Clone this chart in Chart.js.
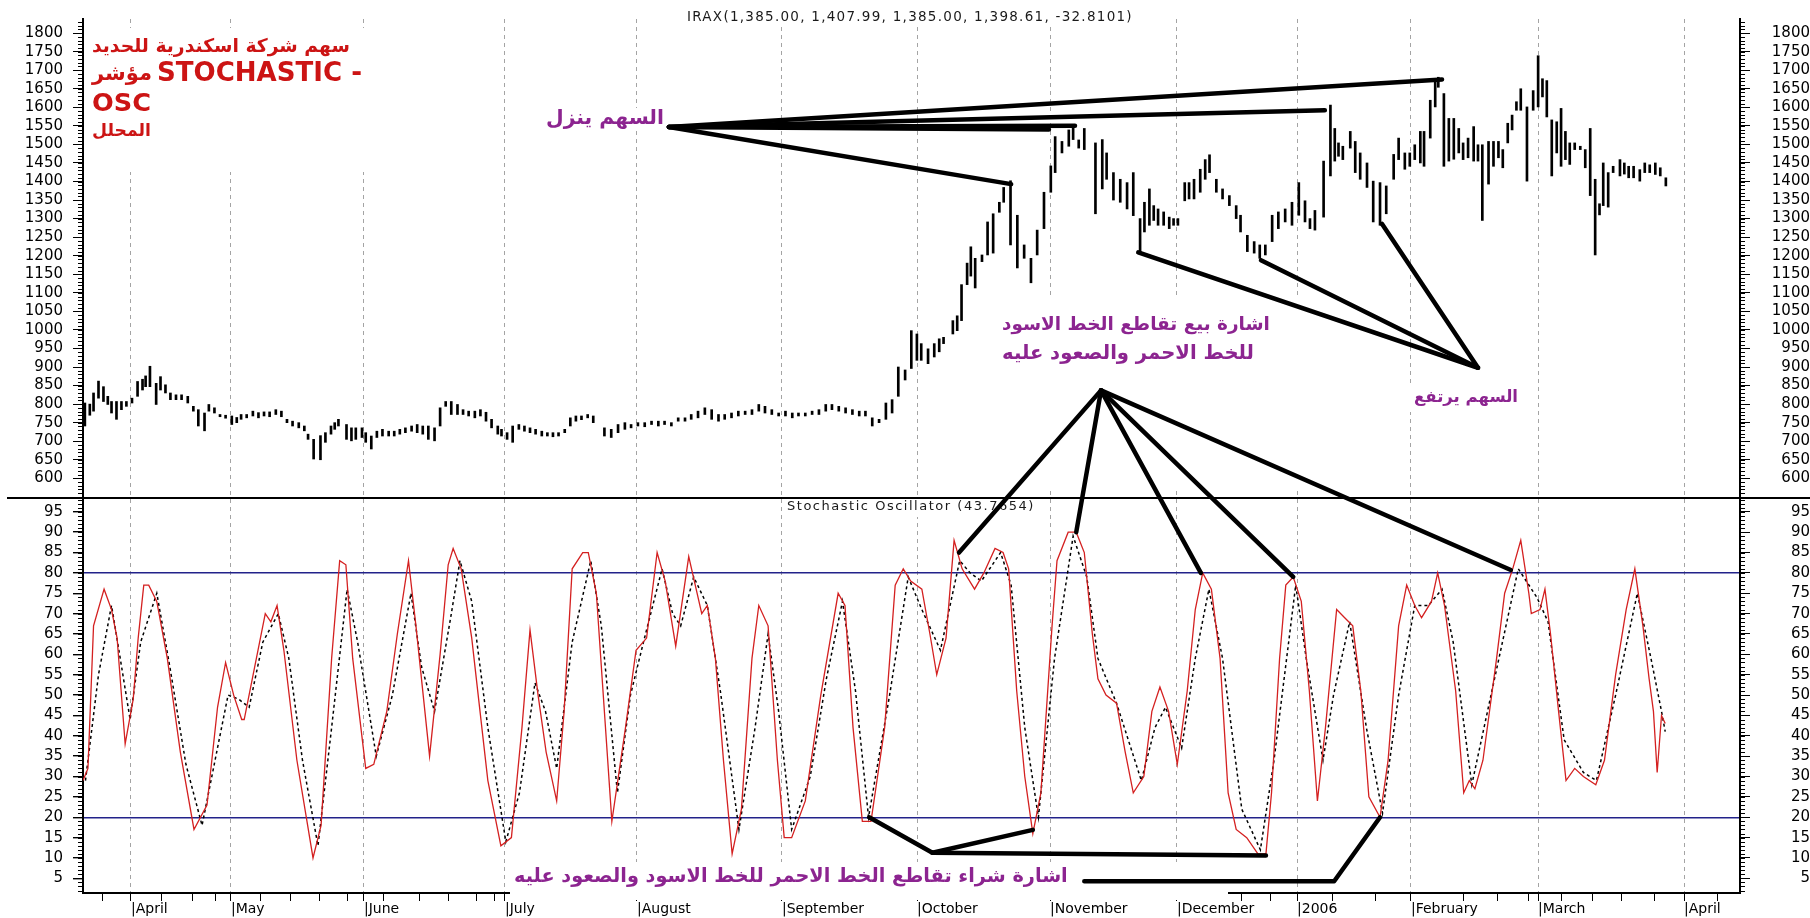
<!DOCTYPE html>
<html><head><meta charset="utf-8">
<script src="https://cdn.jsdelivr.net/npm/chart.js@4.4.1/dist/chart.umd.min.js"></script>
<style>html,body{margin:0;padding:0;background:#fff;}canvas{display:block;}</style>
</head><body>
<canvas id="c" width="1810" height="918"></canvas>
<script>
// ---------- axis ticks / labels ----------
const monthPos = [7.74, 23.87, 45.32, 68.06, 89.35, 112.74, 134.52, 155.97, 176.45, 195.81, 214.19, 234.68, 258.23];
const monthLabels = ['|April','|May','|June','|July','|August','|September','|October','|November','|December','|2006','|February','|March','|April'];
const weekPos = [3.2, 12.7, 17.6, 21.3, 28.7, 33.4, 38.1, 42.6, 48.4, 54.2, 58.9, 63.4, 66.3, 186.9, 191.6, 201.5, 208.5, 222.6, 228.1, 233.2, 238.4, 243.5, 248.2, 253.4, 263.7];
const priceTicks = [600,650,700,750,800,850,900,950,1000,1050,1100,1150,1200,1250,1300,1350,1400,1450,1500,1550,1600,1650,1700,1750,1800];
const stochTicks = [5,10,15,20,25,30,35,40,45,50,55,60,65,70,75,80,85,90,95];

// ---------- price bars (trading-day position, high, low) ----------
const barX = [0.3,1.1,1.7,2.5,3.3,4.0,4.6,5.4,6.2,7.0,7.9,8.8,9.6,10.1,10.8,11.8,12.5,13.3,14.1,15.0,15.9,16.9,17.8,18.6,19.6,20.3,21.2,22.1,23.0,24.0,24.8,25.5,26.4,27.4,28.3,29.2,30.1,31.1,32.0,32.9,33.8,34.8,35.7,36.3,37.2,38.3,39.1,40.0,40.6,41.2,42.5,43.3,44.0,45.0,45.6,46.5,47.4,48.3,49.3,50.2,51.1,52.0,53.0,53.9,54.8,55.7,56.7,57.6,58.5,59.4,60.4,61.3,62.2,63.2,64.1,65.0,65.9,66.9,67.5,68.4,69.3,70.3,71.2,72.1,73.0,74.0,74.9,75.8,76.7,77.7,78.6,79.5,80.4,81.4,82.3,
84.1,85.2,86.3,87.4,88.4,89.5,90.6,91.7,92.8,93.8,94.9,96.0,97.1,98.1,99.2,100.3,101.4,102.5,103.5,104.6,105.7,106.8,107.9,109.0,110.0,111.1,112.2,113.3,114.4,115.4,116.5,117.6,118.7,119.8,120.8,121.9,123.0,124.1,125.2,126.2,127.3,128.4,129.5,130.5,131.5,132.6,133.6,134.5,135.2,136.3,137.3,138.1,138.8,140.3,141.0,141.7,142.6,143.2,143.9,145.0,145.9,146.8,147.8,148.5,149.6,150.7,151.8,152.9,153.9,155.0,156.1,156.8,157.9,159.0,159.7,160.6,161.5,163.3,164.4,165.1,166.2,167.3,168.4,169.4,170.5,171.2,172.0,172.7,173.4,174.3,175.2,175.9,176.6,177.7,178.4,179.2,180.2,181.0,181.7,182.8,183.8,184.9,186.0,186.7,187.8,188.9,189.8,190.7,191.8,192.8,193.9,195.0,196.1,
197.1,197.9,198.7,200.1,201.2,201.9,202.5,203.2,204.4,205.2,206.0,207.1,208.1,209.2,210.2,211.4,212.2,213.2,214.0,214.8,215.7,216.3,217.3,218.1,218.6,219.5,220.3,221.1,221.9,222.6,223.4,224.3,225.0,225.7,226.7,227.5,228.3,229.0,229.8,230.5,231.2,231.9,232.9,233.9,234.7,235.4,236.1,236.9,237.7,238.4,239.1,239.8,240.6,241.5,242.3,243.1,243.9,244.6,245.2,246.0,246.8,247.9,248.6,249.3,250.1,251.1,251.9,252.7,253.6,254.4,255.3];
const barHigh = [803,800,830,862,847,821,807,807,807,807,816,861,867,876,902,856,874,852,830,825,825,821,794,785,776,799,790,772,770,768,764,772,772,781,777,779,779,785,781,759,754,750,741,719,705,715,723,741,750,759,745,736,736,736,723,714,727,732,727,727,732,736,741,745,741,741,736,790,807,807,799,785,781,781,785,778,759,741,732,723,741,745,741,736,732,727,723,723,723,732,763,768,768,772,768,
736,732,745,750,745,750,750,754,754,754,750,763,763,772,781,790,785,772,772,776,781,781,785,799,794,785,776,781,776,776,776,781,785,799,799,794,790,785,781,781,763,759,803,812,900,892,998,989,963,949,963,976,980,1025,1038,1122,1180,1224,1193,1202,1291,1313,1344,1384,1402,1309,1229,1193,1269,1371,1442,1521,1508,1539,1552,1512,1543,1504,1513,1477,1424,1406,1397,1424,1300,1344,1380,1335,1326,1318,1304,1300,1300,1397,1397,1406,1433,1459,1472,1406,1380,1362,1335,1309,1255,1238,1229,1229,1309,1318,1326,1344,1397,
1348,1300,1322,1455,1606,1543,1504,1495,1535,1508,1477,1450,1401,1397,1388,1473,1517,1477,1477,1499,1535,1535,1619,1668,1681,1637,1570,1570,1543,1504,1517,1548,1499,1499,1508,1508,1508,1486,1557,1579,1615,1650,1601,1645,1739,1677,1672,1566,1561,1597,1535,1504,1504,1495,1486,1543,1406,1340,1450,1424,1441,1459,1450,1441,1441,1432,1450,1445,1450,1437,1410];
const barLow = [741,770,781,816,807,799,776,759,785,794,803,821,838,847,847,799,838,830,812,812,812,803,781,741,728,781,776,766,762,745,750,759,763,768,763,768,766,772,766,750,741,736,728,705,652,650,697,719,732,741,705,701,705,710,697,679,710,714,714,714,719,723,727,723,719,705,701,741,794,772,772,772,768,763,768,754,736,719,714,705,697,732,727,723,719,714,714,712,714,723,741,754,758,763,750,
714,710,723,732,736,741,739,745,741,745,741,754,754,759,763,772,759,754,759,763,768,772,772,781,776,772,768,768,763,768,768,772,772,781,785,781,776,772,768,768,741,750,759,776,821,865,896,918,918,909,927,941,963,989,998,1025,1122,1145,1113,1184,1202,1207,1317,1344,1229,1167,1193,1127,1202,1273,1371,1424,1477,1495,1513,1490,1486,1313,1380,1406,1350,1344,1326,1308,1211,1264,1282,1295,1282,1282,1273,1282,1282,1348,1353,1353,1371,1406,1424,1371,1353,1335,1300,1264,1211,1207,1193,1202,1238,1273,1291,1282,1309,
1291,1273,1269,1304,1415,1455,1468,1459,1490,1424,1406,1384,1291,1282,1313,1406,1459,1433,1441,1459,1450,1441,1517,1601,1654,1441,1455,1460,1477,1459,1464,1455,1455,1295,1393,1441,1464,1437,1504,1539,1592,1592,1401,1592,1601,1628,1574,1415,1477,1441,1459,1446,1486,1486,1437,1362,1202,1310,1335,1331,1424,1415,1420,1410,1410,1401,1424,1424,1419,1415,1388];

// ---------- stochastic %K (red) ----------
const kX = [0.0,0.8,1.7,3.4,4.6,5.5,6.8,8.1,8.9,9.8,10.6,11.9,13.6,15.7,17.9,20.0,21.7,23.0,24.3,25.6,26.0,27.7,29.4,30.3,31.3,32.4,34.5,37.1,38.4,40.1,41.4,42.4,43.5,45.6,46.9,49.0,50.7,52.5,53.7,55.9,57.6,58.9,59.7,61.0,62.7,65.3,67.4,69.1,70.8,72.1,73.4,74.7,76.4,77.6,78.9,80.6,81.5,82.8,85.3,87.5,89.2,90.9,92.6,93.9,95.6,97.7,99.8,100.7,102.0,103.3,104.7,106.2,107.9,109.0,110.5,112.0,113.1,114.3,116.5,119.0,121.8,122.9,124.2,125.7,127.1,129.3,131.0,132.3,133.5,135.3,136.6,137.7,139.2,140.5,141.8,143.8,145.3,147.1,148.4,149.3,150.6,151.9,153.2,154.5,156.3,157.1,158.9,160.2,161.5,162.8,163.7,165.0,166.7,168.1,169.4,171.1,172.4,173.7,175.1,176.5,178.1,179.4,180.6,182.0,183.4,184.7,186.0,187.7,189.5,190.8,191.7,193.0,194.0,195.2,196.5,197.8,199.1,200.4,202.2,203.5,204.8,206.1,207.4,209.2,210.5,212.2,213.5,214.8,215.9,217.5,218.5,219.6,221.4,222.7,223.6,224.5,225.8,228.0,229.3,230.6,231.9,233.2,233.6,235.0,235.8,236.7,238.0,239.2,240.6,242.0,244.0,245.4,247.2,248.9,250.3,251.6,252.6,253.3,253.9,254.6,255.2];
const kVal = [29,32,67,76,71,64,38,49,64,77,77,73,59,36,17,23,47,58,50,44,44,57,70,68,72,61,34,10,18,59,83,82,59,32,33,46,65,83,67,35,60,82,86,81,64,29,13,15,42,66,50,36,24,46,81,85,85,75,19,42,61,64,85,78,62,84,70,72,59,34,11,22,59,72,67,34,15,15,24,50,75,72,42,19,19,42,77,81,78,76,65,55,64,88,81,76,80,86,85,81,51,30,16,26,67,83,90,90,85,65,54,50,48,36,26,30,46,52,46,33,51,71,80,76,59,26,17,15,11,11,26,59,77,79,73,51,24,42,71,69,67,51,25,20,34,67,77,72,69,73,80,72,51,26,29,27,34,59,75,81,88,75,70,71,76,65,46,29,32,30,28,34,55,71,81,67,54,46,31,45,43];

// ---------- stochastic %D (black dotted) ----------
const dX = [0.4,2.5,4.6,5.9,7.6,9.3,11.9,14.0,16.6,19.2,21.3,23.4,25.1,26.8,29.0,31.5,33.2,35.4,37.9,40.1,42.6,44.3,47.3,49.9,52.9,54.6,56.7,59.3,60.8,62.7,65.3,68.2,70.4,72.9,74.6,76.4,78.9,81.9,83.6,86.2,88.3,90.4,93.4,95.1,96.4,98.5,100.7,102.8,105.8,108.4,110.5,112.2,114.3,117.3,119.9,122.5,124.6,126.7,130.1,133.1,135.3,138.3,141.4,143.1,144.9,148.0,149.7,151.9,154.1,156.7,159.7,161.9,163.7,166.7,170.7,172.9,174.6,177.2,179.4,181.6,183.8,186.9,189.9,192.1,195.6,197.3,200.0,201.7,204.3,207.0,209.6,212.2,214.8,217.0,219.2,221.0,224.0,227.1,231.5,234.5,236.3,238.9,242.0,244.1,247.2,250.7,252.9,254.6,255.2];
const dVal = [29,55,72,60,44,63,75,57,33,18,34,50,49,47,63,70,59,34,13,42,76,63,35,50,75,57,46,69,83,73,42,14,26,53,46,32,63,83,67,26,50,63,81,70,67,79,72,51,17,42,65,46,17,30,54,73,51,20,50,79,71,61,83,80,78,85,77,42,20,59,89,79,59,48,29,42,47,37,59,76,59,22,12,34,77,59,34,50,68,42,21,50,72,72,76,63,28,50,81,74,68,39,31,29,50,75,59,46,41];

// ---------- annotation anchor points (trading day, value) ----------
const fallFrom = [94.5, 1547];
const fallTo = [[149.7,1393],[155.8,1540],[160.0,1550],[200.3,1592],[219.2,1675]];
const riseFrom = [225.0, 898];
const riseTo = [[170.2,1209],[190.0,1188],[209.5,1286]];
const sellFrom = [164.2, 837];
const sellTo = [[141.3,85],[160.2,90],[180.3,80],[195.2,79],[230.3,80.7]];
const buyPaths = [[[126.8,20],[137.0,11.3],[153.2,16.9]], [[137.0,11.3],[190.8,10.6]], [[161.5,4.3],[201.8,4.3],[209.2,20]]];

const FONT = '"DejaVu Sans"';
const PURPLE = '#8c2490';
const RED = '#cc1414';

function fitText(c, txt, x, y, w, weight, family, color) {
  c.save();
  c.font = weight + ' 100px ' + family;
  const m = c.measureText(txt).width;
  const size = 100 * w / m;
  c.font = weight + ' ' + size.toFixed(2) + 'px ' + family;
  c.fillStyle = color; c.textAlign = 'left'; c.textBaseline = 'middle';
  c.fillText(txt, x, y);
  c.restore();
  return size;
}
function spacedText(c, txt, x, y, w, size, color) {
  c.save();
  c.font = size + 'px ' + FONT;
  const m = c.measureText(txt).width;
  if ('letterSpacing' in c) c.letterSpacing = ((w - m) / txt.length).toFixed(2) + 'px';
  c.fillStyle = color; c.textAlign = 'left'; c.textBaseline = 'middle';
  c.fillText(txt, x, y);
  c.restore();
}

const decor = {
  id: 'decor',
  beforeDraw(chart) {
    const c = chart.ctx; c.save(); c.fillStyle = '#fff'; c.fillRect(0, 0, chart.width, chart.height); c.restore();
  },
  beforeDatasetsDraw(chart) {
    // white backgrounds of the text labels (they hide grid lines)
    const c = chart.ctx; c.save(); c.fillStyle = '#fff';
    const boxes = [[84,28,400,172],[683,8,1137,27],[543,108,668,130],[995,295,1305,490],[1405,384,1525,412],[783,497,1040,517],[510,862,1228,900]];
    for (const b of boxes) c.fillRect(b[0], b[1], b[2]-b[0], b[3]-b[1]);
    c.restore();
  },
  afterDraw(chart) {
    const c = chart.ctx, s = chart.scales;
    const xs = s.x, yP = s.yP, yS = s.yS;
    const L = chart.chartArea.left, R = chart.chartArea.right;
    c.save();
    // minor ticks
    c.strokeStyle = '#000'; c.lineWidth = 1;
    c.beginPath();
    for (let v = 550; v <= 1830; v += 10) {
      const y = Math.round(yP.getPixelForValue(v)) + 0.5;
      c.moveTo(L - 5, y); c.lineTo(L, y); c.moveTo(R, y); c.lineTo(R + 5, y);
    }
    for (let v = 2; v <= 98; v += 1) {
      const y = Math.round(yS.getPixelForValue(v)) + 0.5;
      c.moveTo(L - 5, y); c.lineTo(L, y); c.moveTo(R, y); c.lineTo(R + 5, y);
    }
    c.stroke();
    // panel divider
    c.lineWidth = 2; c.beginPath();
    c.moveTo(7, yP.bottom); c.lineTo(chart.width, yP.bottom); c.stroke();
    c.restore();

    // texts
    spacedText(c, 'IRAX(1,385.00, 1,407.99, 1,385.00, 1,398.61, -32.8101)', 687, 17, 446, 13.5, '#1a1a1a');
    spacedText(c, 'Stochastic Oscillator (43.7654)', 787, 507, 248, 13, '#1a1a1a');
    fitText(c, 'سهم شركة اسكندرية للحديد', 92, 47, 258, 'bold', FONT, RED);
    fitText(c, 'مؤشر', 92, 75, 60, 'bold', FONT, RED);
    fitText(c, 'STOCHASTIC -', 157, 74, 205, 'bold', FONT, RED);
    fitText(c, 'OSC', 92, 104, 59, 'bold', FONT, RED);
    fitText(c, 'المحلل', 92, 132, 59, 'bold', FONT, RED);
    fitText(c, 'السهم ينزل', 546, 119, 118, 'bold', FONT, PURPLE);
    fitText(c, 'اشارة بيع تقاطع الخط الاسود', 1002, 325, 268, 'bold', FONT, PURPLE);
    fitText(c, 'للخط الاحمر والصعود عليه', 1002, 354, 252, 'bold', FONT, PURPLE);
    fitText(c, 'السهم يرتفع', 1414, 398, 104, 'bold', FONT, PURPLE);
    fitText(c, 'اشارة شراء تقاطع الخط الاحمر للخط الاسود والصعود عليه', 514, 877, 554, 'bold', FONT, PURPLE);

    // annotation lines
    c.save();
    c.strokeStyle = '#000'; c.lineWidth = 4.5; c.lineCap = 'round'; c.lineJoin = 'round';
    const P = (pt, sc) => [xs.getPixelForValue(pt[0]), sc.getPixelForValue(pt[1])];
    const seg = (a, sa, b, sb) => { const p = P(a, sa), q = P(b, sb); c.beginPath(); c.moveTo(p[0], p[1]); c.lineTo(q[0], q[1]); c.stroke(); };
    fallTo.forEach(t => seg(fallFrom, yP, t, yP));
    riseTo.forEach(t => seg(riseFrom, yP, t, yP));
    sellTo.forEach(t => seg(sellFrom, yP, t, yS));
    buyPaths.forEach(path => {
      c.beginPath();
      path.forEach((pt, i) => { const p = P(pt, yS); if (i) c.lineTo(p[0], p[1]); else c.moveTo(p[0], p[1]); });
      c.stroke();
    });
    c.restore();
  }
};

const tickFont = {family: 'DejaVu Sans', size: 15};
const leftFit = s => { s.width = 83; };
const rightFit = s => { s.width = 70; };

new Chart(document.getElementById('c'), {
  type: 'line',
  data: {
    datasets: [
      { type: 'line', label: '%K', data: kX.map((x, i) => ({x, y: kVal[i]})), yAxisID: 'yS', xAxisID: 'x',
        borderColor: '#d42020', borderWidth: 1.3, pointRadius: 0, tension: 0, fill: false },
      { type: 'line', label: '%D', data: dX.map((x, i) => ({x, y: dVal[i]})), yAxisID: 'yS', xAxisID: 'x',
        borderColor: '#000', borderWidth: 1.5, borderDash: [3, 3], pointRadius: 0, tension: 0, fill: false },
      { type: 'bar', label: 'IRAX', data: barX.map((x, i) => ({x, y: [barLow[i], barHigh[i]]})), yAxisID: 'yP', xAxisID: 'x',
        backgroundColor: '#000', borderWidth: 0, barThickness: 2, grouped: false }
    ]
  },
  options: {
    responsive: false, animation: false, devicePixelRatio: 1,
    layout: {padding: {top: 8, left: 0, right: 0, bottom: 0}},
    plugins: {legend: {display: false}, tooltip: {enabled: false}, title: {display: false}},
    scales: {
      x: {
        type: 'linear', position: 'bottom', min: 0, max: 267.26, offset: false,
        afterBuildTicks: sc => { sc.ticks = [...monthPos, ...weekPos].sort((a, b) => a - b).map(v => ({value: v})); },
        afterFit: sc => { sc.height = 25; },
        grid: {offset: false, drawTicks: true, tickLength: 8, tickColor: '#000', lineWidth: 1,
               color: ctx => (ctx.tick && monthPos.includes(ctx.tick.value)) ? '#a4a4a4' : 'rgba(0,0,0,0)'},
        border: {display: true, color: '#000', width: 2, dash: [4, 4]},
        ticks: {autoSkip: false, maxRotation: 0, minRotation: 0, align: 'start', padding: 0, color: '#000',
                font: {family: 'DejaVu Sans', size: 14},
                callback: v => { const k = monthPos.indexOf(v); return k >= 0 ? monthLabels[k] : ''; }}
      },
      yS: {
        type: 'linear', position: 'left', stack: 'L', stackWeight: 400, min: 1.4, max: 98.4,
        afterBuildTicks: sc => { sc.ticks = stochTicks.map(v => ({value: v})); },
        afterFit: leftFit,
        grid: {tickLength: 10, tickColor: '#000', lineWidth: 1.4,
               color: ctx => (ctx.tick && (ctx.tick.value === 20 || ctx.tick.value === 80)) ? '#22228a' : 'rgba(0,0,0,0)'},
        border: {color: '#000', width: 2},
        ticks: {autoSkip: false, padding: 10, color: '#000', font: tickFont, callback: v => String(v)}
      },
      yP: {
        type: 'linear', position: 'left', stack: 'L', stackWeight: 485, min: 547, max: 1838,
        afterBuildTicks: sc => { sc.ticks = priceTicks.map(v => ({value: v})); },
        afterFit: leftFit,
        grid: {tickLength: 10, tickColor: '#000', color: 'rgba(0,0,0,0)'},
        border: {color: '#000', width: 2},
        ticks: {autoSkip: false, padding: 10, color: '#000', font: tickFont, callback: v => String(v)}
      },
      yP2: {
        type: 'linear', position: 'right', stack: 'R', stackWeight: 485, min: 547, max: 1838,
        afterBuildTicks: sc => { sc.ticks = priceTicks.map(v => ({value: v})); },
        afterFit: rightFit,
        grid: {tickLength: 10, tickColor: '#000', color: 'rgba(0,0,0,0)', drawOnChartArea: false},
        border: {color: '#000', width: 2},
        ticks: {autoSkip: false, padding: 10, crossAlign: 'far', color: '#000', font: tickFont, callback: v => String(v)}
      },
      yS2: {
        type: 'linear', position: 'right', stack: 'R', stackWeight: 400, min: 1.4, max: 98.4,
        afterBuildTicks: sc => { sc.ticks = stochTicks.map(v => ({value: v})); },
        afterFit: rightFit,
        grid: {tickLength: 10, tickColor: '#000', color: 'rgba(0,0,0,0)', drawOnChartArea: false},
        border: {color: '#000', width: 2},
        ticks: {autoSkip: false, padding: 10, crossAlign: 'far', color: '#000', font: tickFont, callback: v => String(v)}
      }
    }
  },
  plugins: [decor]
});
</script>
</body></html>
